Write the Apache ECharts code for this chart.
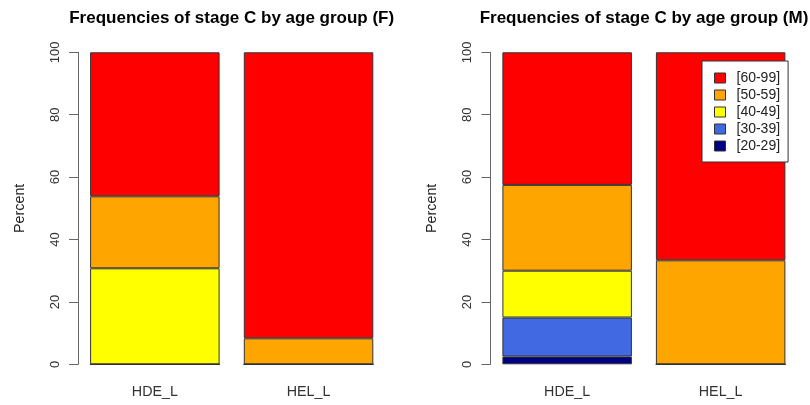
<!DOCTYPE html>
<html><head><meta charset="utf-8">
<script src="https://cdn.jsdelivr.net/npm/echarts@6/dist/echarts.min.js"></script>
<style>html,body{margin:0;padding:0;background:#fff}#c{width:810px;height:405px}</style>
</head><body><div id="c"></div>
<script>
const categories = ['HDE_L', 'HEL_L'];
const ageGroups = ['[20-29]', '[30-39]', '[40-49]', '[50-59]', '[60-99]'];
const groupColors = ['#000080', '#4169E1', '#FFFF00', '#FFA500', '#FF0000'];
// Female percentages per age group: [HDE_L, HEL_L]
const F_20_29 = [0, 0];
const F_30_39 = [0, 0];
const F_40_49 = [30.77, 0];
const F_50_59 = [23.08, 8.33];
const F_60_99 = [46.15, 91.67];
// Male percentages per age group: [HDE_L, HEL_L]
const M_20_29 = [2.5, 0];
const M_30_39 = [12.5, 0];
const M_40_49 = [15, 0];
const M_50_59 = [27.5, 33.33];
const M_60_99 = [42.5, 66.67];
const yTicks = [0, 20, 40, 60, 80, 100];

const femaleData = [F_20_29, F_30_39, F_40_49, F_50_59, F_60_99];
const maleData = [M_20_29, M_30_39, M_40_49, M_50_59, M_60_99];

const FONT = 'Liberation Sans, Arial, Helvetica, sans-serif';
const chart = echarts.init(document.getElementById('c'), null, {renderer: 'canvas'});

function yAx(idx) {
  return {
    type: 'value', gridIndex: idx, min: yTicks[0], max: yTicks[yTicks.length - 1], interval: 20,
    name: 'Percent', nameLocation: 'middle', nameRotate: 90, nameGap: 51,
    nameTextStyle: {color: '#222', fontSize: 14.3, fontFamily: FONT},
    axisLine: {show: true, lineStyle: {color: '#666', width: 1}},
    axisTick: {show: true, length: 9, lineStyle: {color: '#666'}},
    axisLabel: {rotate: 90, margin: 16, color: '#333', fontSize: 13, fontFamily: FONT},
    splitLine: {show: false}
  };
}
function xAx(idx) {
  return {
    type: 'category', gridIndex: idx, data: categories,
    axisLine: {show: false}, axisTick: {show: false},
    axisLabel: {margin: 21, color: '#333', fontSize: 14.3, fontFamily: FONT}
  };
}
const series = [];
[femaleData, maleData].forEach((dataset, gi) => {
  ageGroups.forEach((g, i) => {
    series.push({
      name: g, type: 'bar', stack: 'st' + gi, xAxisIndex: gi, yAxisIndex: gi,
      barWidth: 129.5,
      data: dataset[i],
      itemStyle: {color: groupColors[i], borderColor: '#333', borderWidth: 1},
      emphasis: {disabled: true}
    });
  });
});

chart.setOption({
  animation: false,
  title: [
    {text: 'Frequencies of stage C by age group (F)', left: 231.7, top: 10, padding: 0, textAlign: 'center',
     textStyle: {fontSize: 17, fontWeight: 'bold', color: '#000', fontFamily: FONT}},
    {text: 'Frequencies of stage C by age group (M)', left: 644, top: 10, padding: 0, textAlign: 'center',
     textStyle: {fontSize: 17, fontWeight: 'bold', color: '#000', fontFamily: FONT}}
  ],
  grid: [
    {left: 78, width: 307.4, top: 52.3, bottom: 40.7, containLabel: false},
    {left: 490.4, width: 307, top: 52.3, bottom: 40.7, containLabel: false}
  ],
  xAxis: [xAx(0), xAx(1)],
  yAxis: [yAx(0), yAx(1)],
  legend: {
    data: ageGroups.slice().reverse(),
    orient: 'vertical', left: 702, top: 61,
    itemWidth: 11, itemHeight: 10, itemGap: 3,
    icon: 'rect',
    backgroundColor: '#fff', borderColor: '#333', borderWidth: 1,
    padding: [10, 8, 9, 12],
    textStyle: {fontSize: 14, color: '#222', fontFamily: FONT, padding: [0, 0, 0, 6]},
    itemStyle: {borderColor: '#333', borderWidth: 1}
  },
  series: series
});
</script></body></html>
